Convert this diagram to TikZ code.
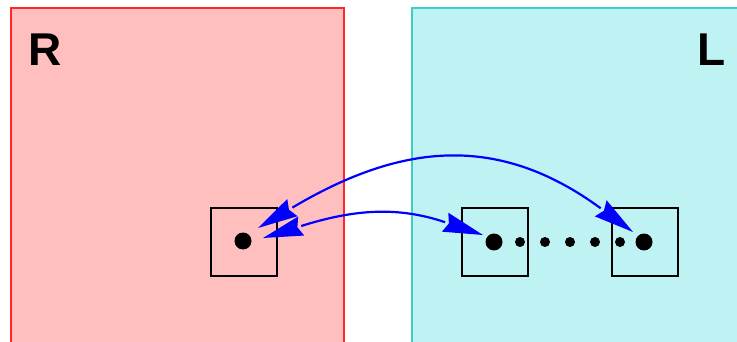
\documentclass[tikz,border=0pt]{standalone}
\usepackage{fontspec}
\setmainfont{Liberation Sans}
\usetikzlibrary{calc}
\definecolor{rfill}{RGB}{255,191,191}
\definecolor{rline}{RGB}{255,40,40}
\definecolor{lfill}{RGB}{191,242,242}
\definecolor{lline}{RGB}{60,205,205}
\definecolor{link}{RGB}{0,0,255}
\tikzset{
  region/.style={line width=1.5pt},
  cell/.style={draw=black, line width=1.2pt, minimum width=66pt, minimum height=68pt, inner sep=0pt},
  bigdot/.style={circle, fill=black, minimum size=17pt, inner sep=0pt},
  smalldot/.style={circle, fill=black, minimum size=10pt, inner sep=0pt},
  tag/.style={font=\fontsize{46}{46}\selectfont\bfseries, inner sep=0pt},
  pointer/.style={draw=link, line width=2.2pt},
  head/.style={fill=link}
}
% long arrowhead from its tip back to the centre of its base
\newcommand\pointerhead[2]{%
  \fill[head] (#1) -- ($(#2)!10pt!90:(#1)$) -- ($(#1)!0.9!(#2)$)
    -- ($(#2)!10pt!-90:(#1)$) -- cycle;}
\begin{document}
\begin{tikzpicture}[x=1pt,y=-1pt]
  \useasboundingbox (0,0) rectangle (737,342);
  \clip (0,0) rectangle (737,342);
  % the two regions
  \fill[rfill] (11,8) rectangle (344,360);
  \draw[region, rline] (11,360) -- (11,8) -- (344,8) -- (344,360);
  \fill[lfill] (412,8) rectangle (760,360);
  \draw[region, lline] (412,360) -- (412,8) -- (760,8);
  \node[tag] (rtag) at (45,50) {R};
  \node[tag] (ltag) at (712,50) {L};
  % cells with their entries
  \node[cell] (c1) at (244,242) {};
  \node[cell] (c2) at (495,242) {};
  \node[cell] (c3) at (645,242) {};
  \node[bigdot] (d1) at (243,241) {};
  \node[bigdot] (d2) at (494,242) {};
  \node[bigdot] (d3) at (644,242) {};
  \foreach \x [count=\i] in {520,545,570,595,620}
    \node[smalldot] (s\i) at (\x,242) {};
  % tips of the pointers and the centres of their heads' bases
  \coordinate (t1a) at (258,228);   \coordinate (b1a) at (292.4,207.6);
  \coordinate (t1b) at (633,232);   \coordinate (b1b) at (600.7,208.3);
  \coordinate (t2a) at (263,238);   \coordinate (b2a) at (301.2,226);
  \coordinate (t2b) at (483,235);   \coordinate (b2b) at (445.1,222.2);
  % pointers
  \draw[pointer] (b1a) .. controls (401.6,142.7) and (498.3,133.2) .. (b1b);
  \draw[pointer] (b2a) .. controls (351.3,210.3) and (395.4,205.4) .. (b2b);
  \pointerhead{t1a}{b1a}
  \pointerhead{t1b}{b1b}
  \pointerhead{t2a}{b2a}
  \pointerhead{t2b}{b2b}
\end{tikzpicture}
\end{document}
